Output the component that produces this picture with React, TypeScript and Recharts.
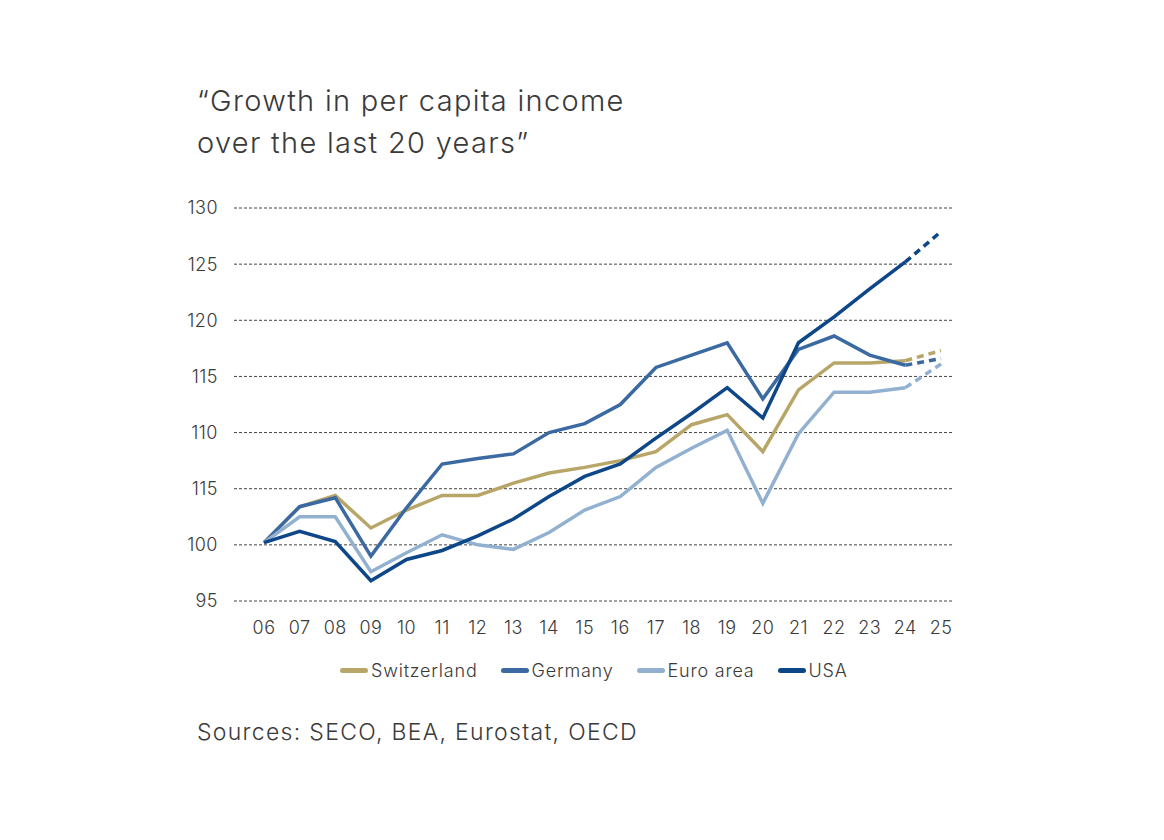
import React from 'react';
import { LineChart, Line, XAxis, YAxis, CartesianGrid } from 'recharts';

const years = ['06', '07', '08', '09', '10', '11', '12', '13', '14', '15', '16', '17', '18', '19', '20', '21', '22', '23', '24', '25'];

const switzerland = [100.2, 103.4, 104.4, 101.5, 103.1, 104.4, 104.4, 105.5, 106.4, 106.9, 107.5, 108.3, 110.7, 111.6, 108.3, 113.8, 116.2, 116.2, 116.4, 117.3];
const germany = [100.2, 103.4, 104.2, 99.0, 103.3, 107.2, 107.7, 108.1, 110.0, 110.8, 112.5, 115.8, 116.9, 118.0, 113.0, 117.4, 118.6, 116.9, 116.0, 116.6];
const euroArea = [100.2, 102.5, 102.5, 97.6, 99.3, 100.9, 100.0, 99.6, 101.1, 103.1, 104.3, 106.9, 108.6, 110.2, 103.7, 109.9, 113.6, 113.6, 114.0, 116.1];
const usa = [100.2, 101.2, 100.3, 96.8, 98.7, 99.5, 100.8, 102.3, 104.3, 106.1, 107.2, 109.5, 111.7, 114.0, 111.3, 118.0, 120.3, 122.8, 125.2, 127.9];

// last year is a forecast, drawn dashed
const forecastFrom = 18;

const yTicks = [95, 100, 105, 110, 115, 120, 125, 130];
const yTickLabels = ['95', '100', '115', '110', '115', '120', '125', '130'];

const series = [
  { key: 'ch', name: 'Switzerland', values: switzerland, color: '#b8a668' },
  { key: 'de', name: 'Germany', values: germany, color: '#3b6aa2' },
  { key: 'ea', name: 'Euro area', values: euroArea, color: '#92b1d0' },
  { key: 'us', name: 'USA', values: usa, color: '#0e4788' },
];

const data = years.map((year, i) => {
  const row: Record<string, string | number | null> = { year };
  series.forEach((s) => {
    row[s.key] = i <= forecastFrom ? s.values[i] : null;
    row[s.key + 'F'] = i >= forecastFrom ? s.values[i] : null;
  });
  return row;
});

const font = 'Inter, "Noto Sans", sans-serif';
const textColor = '#3a3a3a';
const tickStyle = { fill: textColor, fontSize: 18, fontFamily: font, fontWeight: 300, letterSpacing: 0.5 };

export default function App() {
  return (
    <div style={{ position: 'absolute', left: 0, top: 0, width: 1164, height: 840, background: '#fff', fontFamily: font, color: textColor }}>
      <div style={{ position: 'absolute', left: 197, top: 80, fontSize: 29, fontWeight: 300, lineHeight: '42px', letterSpacing: 1.3 }}>
        “Growth in per capita income
        <br />
        over the last 20 years”
      </div>

      <div style={{ position: 'absolute', left: 0, top: 190 }}>
        <LineChart width={1164} height={460} data={data} margin={{ top: 18, right: 211, bottom: 19, left: 174 }}>
          <CartesianGrid vertical={false} stroke="#444" strokeDasharray="3 2" strokeWidth={1} />
          <XAxis
            dataKey="year"
            axisLine={false}
            tickLine={false}
            padding={{ left: 30, right: 12 }}
            height={30}
            tick={tickStyle}
            tickMargin={14}
            interval={0}
          />
          <YAxis
            domain={[95, 130]}
            ticks={yTicks}
            width={60}
            axisLine={false}
            tickLine={false}
            tickMargin={10}
            tick={tickStyle}
            tickFormatter={(v: number) => yTickLabels[yTicks.indexOf(v)]}
          />
          {series.map((s) => (
            <Line
              key={s.key}
              dataKey={s.key}
              stroke={s.color}
              strokeWidth={3.5}
              dot={false}
              activeDot={false}
              isAnimationActive={false}
              connectNulls={false}
            />
          ))}
          {series.map((s) => (
            <Line
              key={s.key + 'F'}
              dataKey={s.key + 'F'}
              stroke={s.color}
              strokeWidth={3.5}
              strokeDasharray="7 5"
              dot={false}
              activeDot={false}
              isAnimationActive={false}
            />
          ))}
        </LineChart>
      </div>

      <div style={{ position: 'absolute', left: 340, top: 660, display: 'flex', alignItems: 'center', gap: 23, fontSize: 18, fontWeight: 300, letterSpacing: 0.8 }}>
        {series.map((s) => (
          <div key={s.key} style={{ display: 'flex', alignItems: 'center' }}>
            <span style={{ display: 'inline-block', width: 28, height: 5, borderRadius: 3, background: s.color, marginRight: 3 }} />
            <span>{s.name}</span>
          </div>
        ))}
      </div>

      <div style={{ position: 'absolute', left: 197, top: 718, fontSize: 23, fontWeight: 300, letterSpacing: 1.3 }}>
        Sources: SECO, BEA, Eurostat, OECD
      </div>
    </div>
  );
}
